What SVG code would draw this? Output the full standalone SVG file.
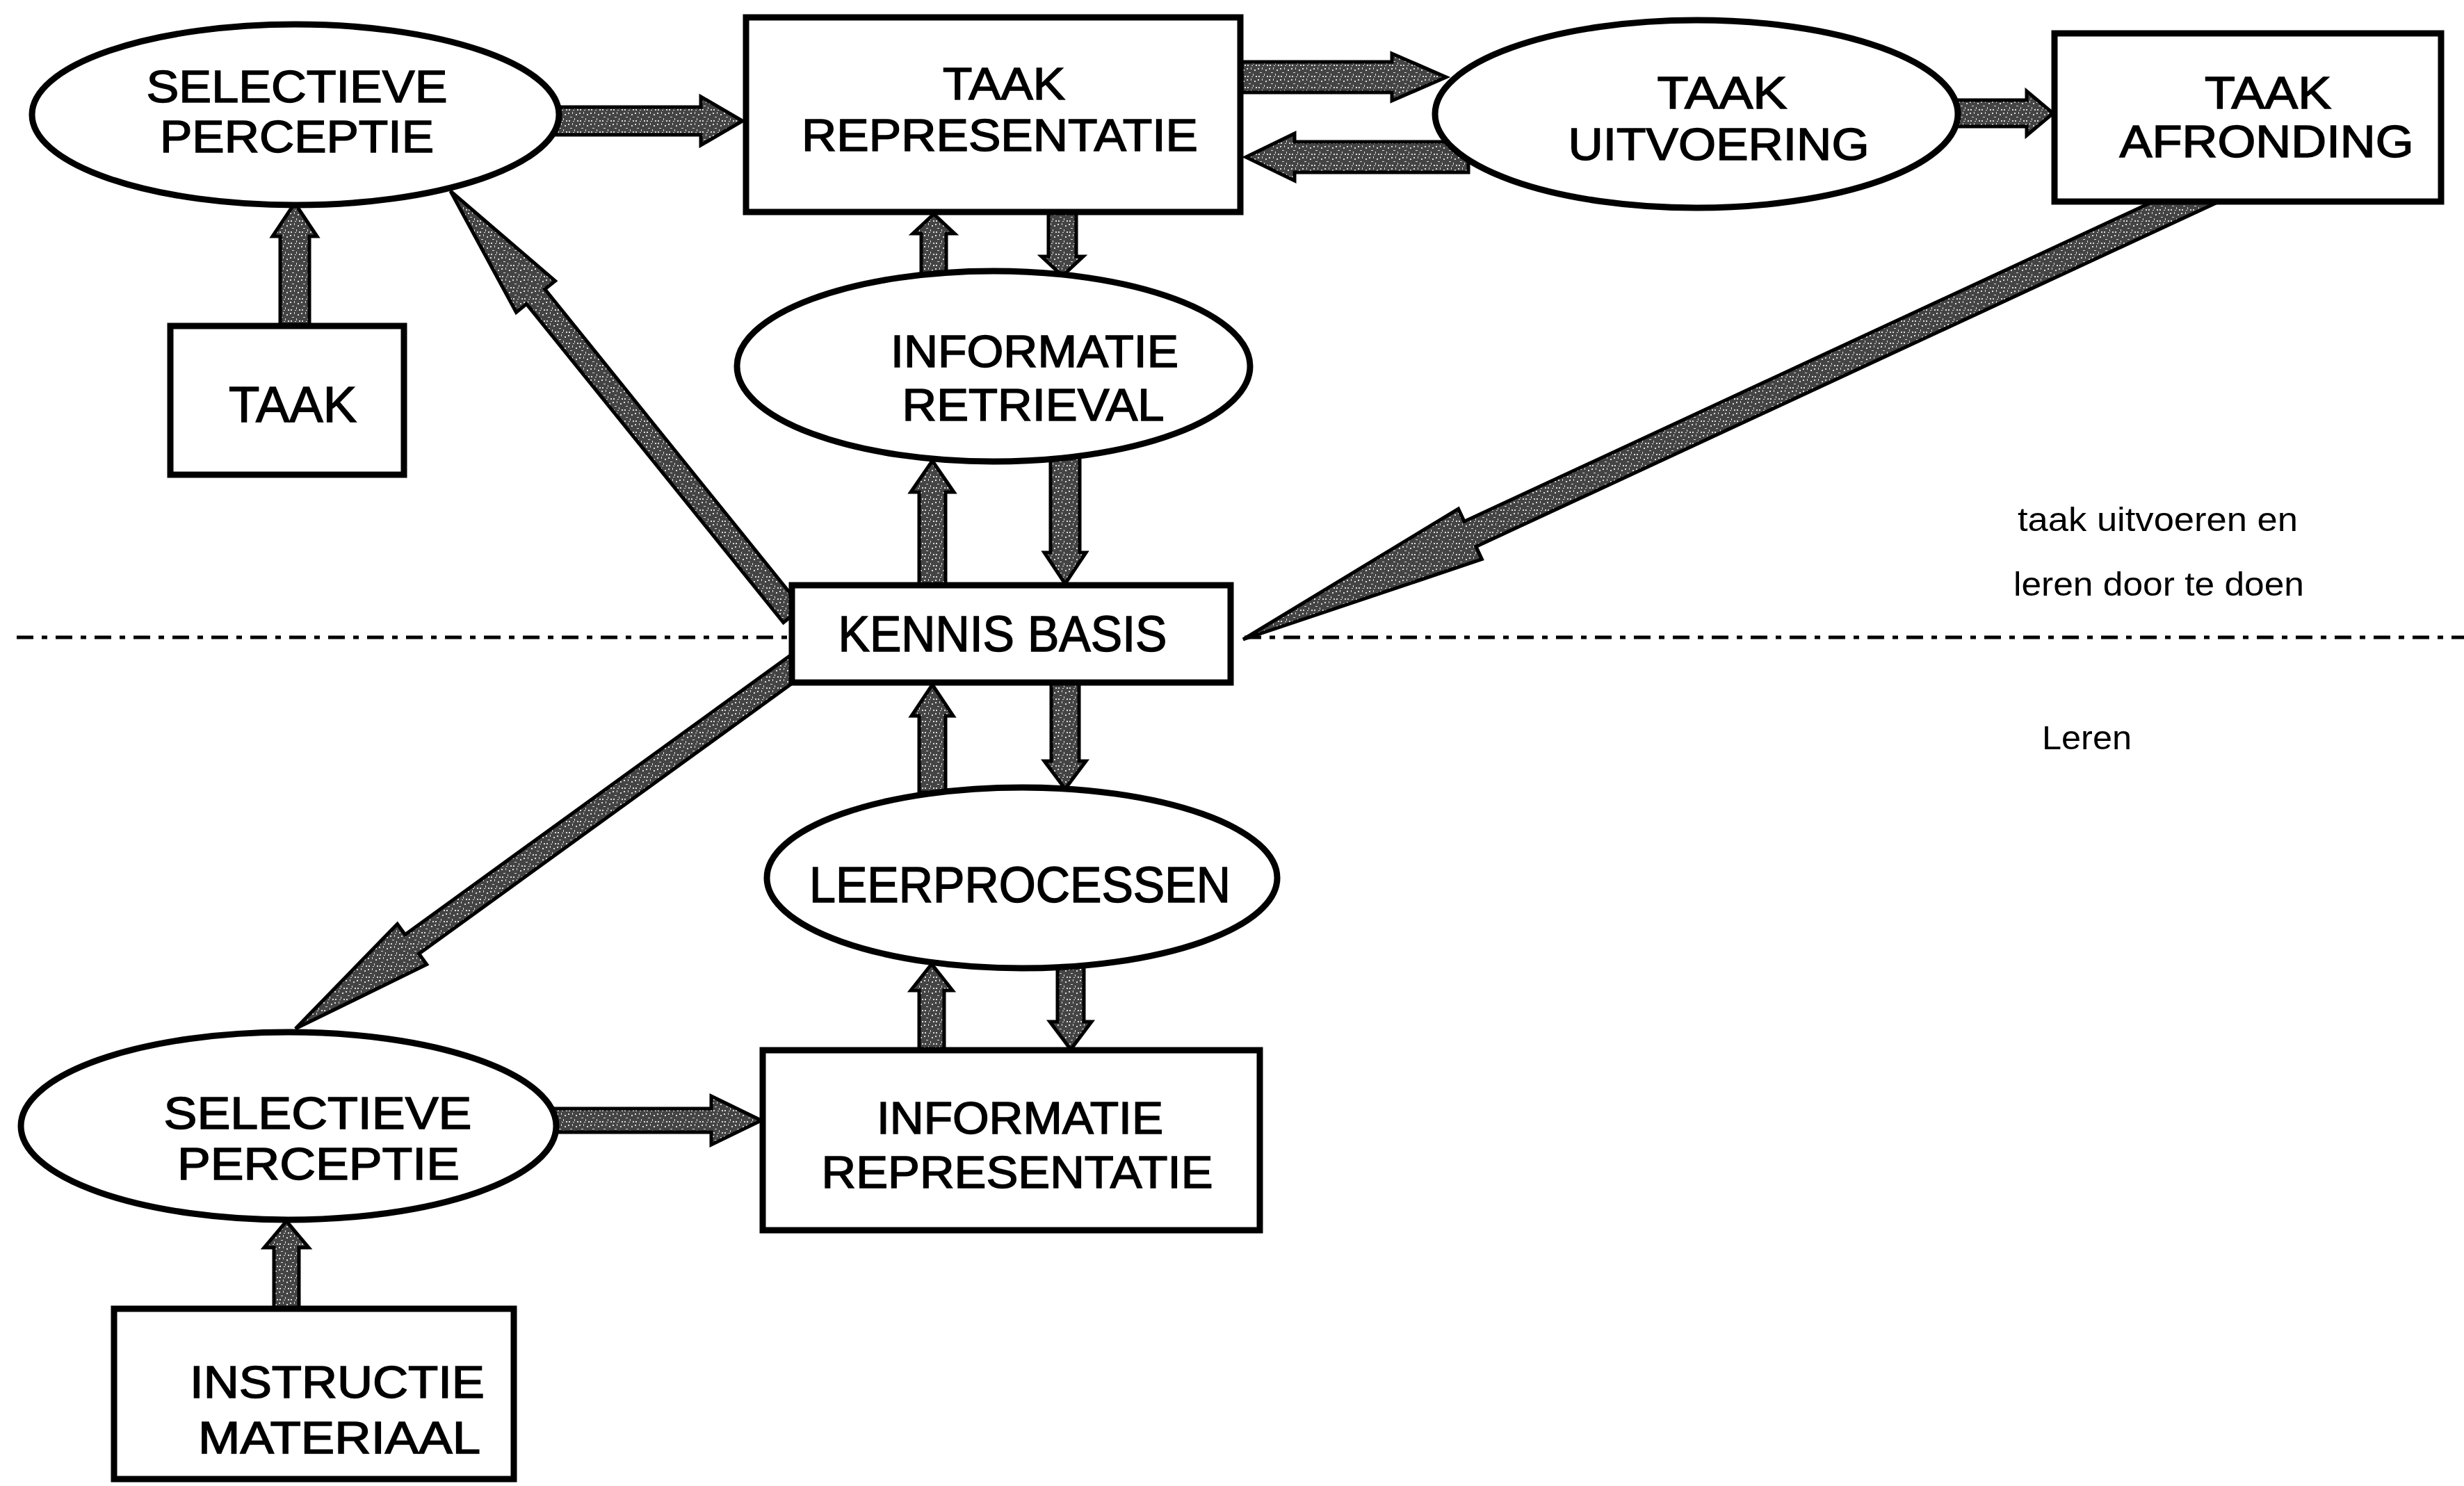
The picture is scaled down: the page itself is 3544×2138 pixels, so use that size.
<svg xmlns="http://www.w3.org/2000/svg" width="3544" height="2138" viewBox="0 0 3544 2138">
<defs>
<pattern id="stip" width="16" height="16" patternUnits="userSpaceOnUse">
<rect width="16" height="16" fill="#444"/>
<rect x="1" y="2" width="2" height="2" fill="#ddd"/>
<rect x="7" y="1" width="1" height="3" fill="#ddd"/>
<rect x="12" y="4" width="2" height="2" fill="#ddd"/>
<rect x="4" y="8" width="3" height="1" fill="#ddd"/>
<rect x="10" y="10" width="1" height="3" fill="#ddd"/>
<rect x="14" y="13" width="2" height="2" fill="#ddd"/>
<rect x="2" y="13" width="2" height="2" fill="#ddd"/>
<rect x="8" y="14" width="2" height="1" fill="#ddd"/>
</pattern>
</defs>
<style>
.node{fill:#fff;stroke:#000;stroke-width:9}
.arr{fill:url(#stip);stroke:#000;stroke-width:5;stroke-linejoin:miter}
.lbl{font-family:"Liberation Sans",Arial,sans-serif;font-size:72px;text-anchor:middle;fill:#000;stroke:#000;stroke-width:1.5}
.two{font-size:64px}
.note{font-family:"Liberation Sans",Arial,sans-serif;font-size:48px;fill:#000}
.dash{fill:none;stroke:#000;stroke-width:5;stroke-dasharray:24 12 8 12}
</style>
<rect width="3544" height="2138" fill="#fff"/>

<g id="divider">
<line class="dash" x1="24" y1="917" x2="1139" y2="917"/>
<line class="dash" x1="1790" y1="917" x2="3544" y2="917"/>
</g>

<g id="connectors">
<polygon class="arr" points="800,154 1008,154 1008,139 1068,174 1008,209 1008,194 800,194"/>
<polygon class="arr" points="1786,89 2002,89 2002,77 2080,111 2002,145 2002,133 1786,133"/>
<polygon class="arr" points="2112,204 1862,204 1862,192 1792,226 1862,260 1862,248 2112,248"/>
<polygon class="arr" points="2810,144 2915,144 2915,131 2953,163 2915,195 2915,182 2810,182"/>
<polygon class="arr" points="795,1595 1023,1595 1023,1577 1095,1612 1023,1647 1023,1629 795,1629"/>
<polygon class="arr" points="403,472 403,340 392,340 424,292 456,340 445,340 445,472"/>
<polygon class="arr" points="1325,400 1325,336 1313,336 1343,308 1373,336 1361,336 1361,400"/>
<polygon class="arr" points="1508,300 1508,369 1498,369 1528,397 1558,369 1548,369 1548,300"/>
<polygon class="arr" points="1322,845 1322,708 1310,708 1341,663 1372,708 1360,708 1360,845"/>
<polygon class="arr" points="1511,655 1511,795 1502,795 1532,840 1562,795 1553,795 1553,655"/>
<polygon class="arr" points="1322,1140 1322,1030 1311,1030 1341,985 1371,1030 1360,1030 1360,1140"/>
<polygon class="arr" points="1512,980 1512,1095 1502,1095 1532,1135 1562,1095 1552,1095 1552,980"/>
<polygon class="arr" points="1322,1515 1322,1425 1310,1425 1340,1387 1370,1425 1358,1425 1358,1515"/>
<polygon class="arr" points="1521,1385 1521,1470 1510,1470 1540,1510 1570,1470 1559,1470 1559,1385"/>
<polygon class="arr" points="394,1888 394,1795 380,1795 412,1757 444,1795 430,1795 430,1888"/>
<polygon class="arr" points="648,275 742.5,449.3 757.3,437.4 1126.8,895.7 1153.2,874.3 783.7,416 798.5,404.1"/>
<polygon class="arr" points="1788,920 2131.4,804.6 2122.9,786.4 3188.4,291.5 3171.6,255.3 2106.1,750.2 2097.6,732"/>
<polygon class="arr" points="425,1480 613.7,1387.6 602.6,1372.3 1155,971.8 1135,944.2 582.6,1344.7 571.5,1329.4"/>
</g>

<g id="selectieve-perceptie-1">
<ellipse class="node" cx="425" cy="165" rx="379" ry="130"/>
<text class="lbl two" x="427" y="147" textLength="433" lengthAdjust="spacingAndGlyphs">SELECTIEVE</text>
<text class="lbl two" x="427" y="219" textLength="394" lengthAdjust="spacingAndGlyphs">PERCEPTIE</text>
</g>

<g id="taak">
<rect class="node" x="245" y="469" width="336" height="214"/>
<text class="lbl" x="421" y="607" textLength="184" lengthAdjust="spacingAndGlyphs">TAAK</text>
</g>

<g id="taak-representatie">
<rect class="node" x="1073" y="25" width="711" height="280"/>
<text class="lbl two" x="1444" y="143" textLength="176" lengthAdjust="spacingAndGlyphs">TAAK</text>
<text class="lbl two" x="1438" y="217" textLength="570" lengthAdjust="spacingAndGlyphs">REPRESENTATIE</text>
</g>

<g id="taak-uitvoering">
<ellipse class="node" cx="2440" cy="164" rx="376" ry="135"/>
<text class="lbl two" x="2477" y="156" textLength="187" lengthAdjust="spacingAndGlyphs">TAAK</text>
<text class="lbl two" x="2472" y="230" textLength="433" lengthAdjust="spacingAndGlyphs">UITVOERING</text>
</g>

<g id="taak-afronding">
<rect class="node" x="2955" y="48" width="556" height="242"/>
<text class="lbl two" x="3262" y="156" textLength="182" lengthAdjust="spacingAndGlyphs">TAAK</text>
<text class="lbl two" x="3260" y="226" textLength="423" lengthAdjust="spacingAndGlyphs">AFRONDING</text>
</g>

<g id="informatie-retrieval">
<ellipse class="node" cx="1429" cy="527" rx="369" ry="137"/>
<text class="lbl two" x="1488" y="528" textLength="414" lengthAdjust="spacingAndGlyphs">INFORMATIE</text>
<text class="lbl two" x="1486" y="605" textLength="377" lengthAdjust="spacingAndGlyphs">RETRIEVAL</text>
</g>

<g id="kennis-basis">
<rect class="node" x="1139" y="842" width="631" height="140"/>
<text class="lbl" x="1442" y="937" textLength="473" lengthAdjust="spacingAndGlyphs">KENNIS BASIS</text>
</g>

<g id="leerprocessen">
<ellipse class="node" cx="1470" cy="1263" rx="367" ry="130"/>
<text class="lbl" x="1467" y="1298" textLength="606" lengthAdjust="spacingAndGlyphs">LEERPROCESSEN</text>
</g>

<g id="informatie-representatie">
<rect class="node" x="1097" y="1511" width="715" height="259"/>
<text class="lbl two" x="1467" y="1631" textLength="412" lengthAdjust="spacingAndGlyphs">INFORMATIE</text>
<text class="lbl two" x="1463" y="1709" textLength="563" lengthAdjust="spacingAndGlyphs">REPRESENTATIE</text>
</g>

<g id="selectieve-perceptie-2">
<ellipse class="node" cx="415" cy="1620" rx="385" ry="135"/>
<text class="lbl two" x="457" y="1624" textLength="443" lengthAdjust="spacingAndGlyphs">SELECTIEVE</text>
<text class="lbl two" x="458" y="1697" textLength="406" lengthAdjust="spacingAndGlyphs">PERCEPTIE</text>
</g>

<g id="instructie-materiaal">
<rect class="node" x="164" y="1883" width="575" height="245"/>
<text class="lbl two" x="485" y="2011" textLength="424" lengthAdjust="spacingAndGlyphs">INSTRUCTIE</text>
<text class="lbl two" x="488" y="2091" textLength="406" lengthAdjust="spacingAndGlyphs">MATERIAAL</text>
</g>

<g id="annotations">
<text class="note" x="2902" y="764" textLength="403" lengthAdjust="spacingAndGlyphs">taak uitvoeren en</text>
<text class="note" x="2896" y="857" textLength="418" lengthAdjust="spacingAndGlyphs">leren door te doen</text>
<text class="note" x="2937" y="1078" textLength="129" lengthAdjust="spacingAndGlyphs">Leren</text>
</g>
</svg>
